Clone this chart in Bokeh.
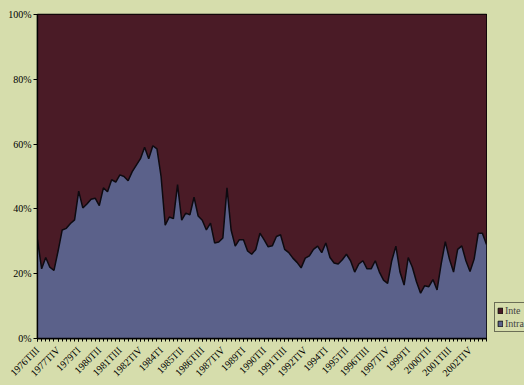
import numpy as np
from bokeh.plotting import figure
from bokeh.layouts import row
from bokeh.models import Range1d, FixedTicker, Legend, LegendItem, ColumnDataSource
from bokeh.embed import file_html
from bokeh.resources import INLINE

# Quarterly shares (%), 1976 III .. 2003 IV
intra_share = [
    30.5, 21.5, 25.0, 22.0, 21.0, 27.0, 33.5, 34.0, 35.5, 36.6,
    45.5, 40.3, 41.5, 43.0, 43.3, 41.0, 46.5, 45.3, 49.0, 48.3,
    50.5, 50.0, 48.7, 51.5, 53.5, 55.5, 59.0, 55.5, 59.5, 58.5,
    50.0, 35.0, 37.5, 37.0, 47.5, 36.5, 38.7, 38.2, 43.6, 37.8,
    36.5, 33.5, 35.6, 29.5, 29.8, 31.0, 46.5, 33.5, 28.5, 30.5,
    30.5, 27.0, 26.0, 27.5, 32.5, 30.5, 28.3, 28.6, 31.5, 32.0,
    27.5, 26.5, 24.8, 23.5, 21.8, 24.8, 25.5, 27.5, 28.5, 26.5,
    29.5, 25.0, 23.3, 23.0, 24.3, 26.0, 24.0, 20.5, 23.0, 24.0,
    21.5, 21.5, 24.0, 20.5, 18.0, 17.0, 24.0, 28.5, 20.5, 16.5,
    25.0, 22.0, 17.5, 14.0, 16.3, 16.0, 18.2, 15.0, 23.0, 29.9,
    24.5, 20.5, 27.5, 28.6, 24.0, 20.7, 24.5, 32.5, 32.5, 29.0,
]
inter_share = [100.0 - v for v in intra_share]
quarter = list(range(len(intra_share)))

tick_labels = [
    "1976TIII", "1977TIV", "1979TI", "1980TII", "1981TIII", "1982TIV",
    "1984TI", "1985TII", "1986TIII", "1987TIV", "1989TI", "1990TII",
    "1991TIII", "1992TIV", "1994TI", "1995TII", "1996TIII", "1997TIV",
    "1999TI", "2000TII", "2001TIII", "2002TIV",
]
tick_every = 5
y_ticks = [0, 20, 40, 60, 80, 100]

# legend entries as printed beside the plot
series_names = ["Inte", "Intra"]
series_colors = ["#4a1b26", "#5b618a"]

PAGE_BG = "#d6ddac"
FONT = "Liberation Serif"

source = ColumnDataSource(dict(q=quarter, intra=intra_share, inter=inter_share))

p = figure(width=487, height=385, output_backend="svg", toolbar_location=None,
           min_border_left=37, min_border_right=1, min_border_top=14,
           min_border_bottom=46,
           x_range=Range1d(0, len(quarter) - 1), y_range=Range1d(0, 100))
p.border_fill_color = PAGE_BG
p.background_fill_color = series_colors[0]
p.outline_line_color = "black"
p.outline_line_width = 1.5
p.xgrid.visible = False
p.ygrid.visible = False

areas = p.varea_stack(["intra", "inter"], x="q", source=source,
                      color=[series_colors[1], series_colors[0]])
p.line("q", "intra", source=source, line_color="#0d0a10", line_width=1.5)

# y axis: percentage ticks
p.yaxis.ticker = FixedTicker(ticks=y_ticks)
p.yaxis.major_label_overrides = {t: f"{t}%" for t in y_ticks}
p.yaxis.minor_tick_line_color = None
p.yaxis.major_tick_out = 4
p.yaxis.major_tick_in = 0
p.yaxis.major_label_standoff = 2

# x axis: a tick per quarter, a label every fifth quarter
label_pos = list(range(0, len(quarter), tick_every))[:len(tick_labels)]
p.xaxis.ticker = FixedTicker(ticks=label_pos, minor_ticks=quarter)
p.xaxis.major_label_overrides = {pos: lab for pos, lab in zip(label_pos, tick_labels)}
p.xaxis.major_label_orientation = np.pi / 4
p.xaxis.major_tick_out = 3
p.xaxis.major_tick_in = 0
p.xaxis.minor_tick_out = 3
p.xaxis.minor_tick_in = 0
p.xaxis.major_label_standoff = 7

for ax in (p.xaxis[0], p.yaxis[0]):
    ax.axis_line_color = "black"
    ax.axis_line_width = 1.3
    ax.major_tick_line_color = "black"
    ax.major_label_text_font = FONT
    ax.major_label_text_font_size = "10px"
    ax.major_label_text_color = "black"
p.xaxis.minor_tick_line_color = "black"

# narrow strip to the right of the chart that carries the legend
side = figure(width=37, height=385, output_backend="svg", toolbar_location=None,
              min_border=0, x_axis_location=None, y_axis_location=None,
              x_range=Range1d(0, 1), y_range=Range1d(0, 1))
side.border_fill_color = PAGE_BG
side.background_fill_color = PAGE_BG
side.outline_line_color = None
side.xgrid.visible = False
side.ygrid.visible = False
# key swatches (placed outside the strip's range, only their legend glyphs show)
key_inter = side.rect(x=[-5], y=[-5], width=1, height=1,
                      fill_color=series_colors[0], line_color="black", line_width=0.8)
key_intra = side.rect(x=[-5], y=[-5], width=1, height=1,
                      fill_color=series_colors[1], line_color="black", line_width=0.8)

legend = Legend(items=[LegendItem(label=series_names[0], renderers=[key_inter]),
                       LegendItem(label=series_names[1], renderers=[key_intra])],
                location=(7, 6))
legend.label_text_font = FONT
legend.label_text_font_size = "10px"
legend.label_height = 9
legend.glyph_height = 7
legend.glyph_width = 6
legend.spacing = 2
legend.padding = 2
legend.margin = 0
legend.label_standoff = 2
legend.border_line_color = "black"
legend.border_line_width = 1
legend.background_fill_color = PAGE_BG
legend.background_fill_alpha = 1
side.add_layout(legend)

layout = row(p, side, spacing=0)
layout.styles = {"background-color": PAGE_BG}
open("out.html", "w").write(file_html(layout, INLINE))
